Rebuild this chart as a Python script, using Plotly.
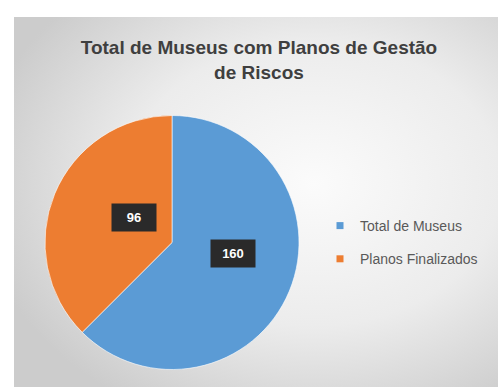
import math
import plotly.graph_objects as go

# Museum counts by planning status
categories = ["Total de Museus", "Planos Finalizados"]
values = [160, 96]
colors = ["#5b9bd5", "#ed7d31"]

title_text = "<b>Total de Museus com Planos de Gestão<br>de Riscos</b>"

W, H = 498, 387

# Pie placement in paper coordinates
dom_x = [45 / W, 299 / W]
dom_y = [1 - 372 / H, 1 - 113 / H]
cx = (dom_x[0] + dom_x[1]) / 2
cy = (dom_y[0] + dom_y[1]) / 2
r_px = (dom_x[1] - dom_x[0]) * W / 2

fig = go.Figure()

fig.add_trace(go.Pie(
    labels=categories,
    values=values,
    sort=False,
    direction="clockwise",
    rotation=0,
    marker=dict(colors=colors, line=dict(color="rgba(255,255,255,0.6)", width=1)),
    textinfo="none",
    hoverinfo="label+value",
    showlegend=False,
    domain=dict(x=dom_x, y=dom_y),
))

# Value callouts placed at the middle angle of each slice
total = sum(values)
acc = 0
for v in values:
    mid = (acc + v / 2) / total * 2 * math.pi
    acc += v
    dx = 0.52 * r_px * math.sin(mid)
    dy = 0.52 * r_px * math.cos(mid)
    fig.add_annotation(
        x=cx + dx / W, y=cy + dy / H, xref="paper", yref="paper",
        text=f"<b>{v}</b>", showarrow=False,
        font=dict(family="Liberation Sans, Arial", size=13, color="white"),
        bgcolor="#2a2a2a", borderpad=6, width=32,
    )

# Legend entries
for name, col in zip(categories, colors):
    fig.add_trace(go.Scatter(
        x=[None], y=[None], mode="markers", name=name,
        marker=dict(symbol="square", size=7, color=col),
        legendgroup=name, showlegend=True,
    ))

# Soft grey panel with a lighter centre
grad_svg = (
    "data:image/svg+xml;utf8,"
    "<svg xmlns='http://www.w3.org/2000/svg' width='484' height='370'>"
    "<defs><radialGradient id='g' cx='62%' cy='45%' r='70%'>"
    "<stop offset='0%' stop-color='%23fbfbfb'/>"
    "<stop offset='55%' stop-color='%23ececec'/>"
    "<stop offset='100%' stop-color='%23cccccc'/>"
    "</radialGradient></defs>"
    "<rect width='484' height='370' fill='url(%23g)'/></svg>"
)
fig.add_layout_image(
    source=grad_svg, xref="paper", yref="paper",
    x=14 / W, y=1 - 17 / H, sizex=1 - 14 / W, sizey=1 - 17 / H,
    xanchor="left", yanchor="top", sizing="stretch", layer="below",
)

fig.update_layout(
    width=W, height=H,
    margin=dict(l=0, r=0, t=0, b=0),
    paper_bgcolor="white",
    plot_bgcolor="rgba(0,0,0,0)",
    title=dict(
        text=title_text, x=0.52, xanchor="center", y=1 - 54 / H, yanchor="top",
        font=dict(family="Liberation Sans, Arial", size=19, color="#3f3f3f"),
    ),
    xaxis=dict(visible=False),
    yaxis=dict(visible=False),
    legend=dict(
        x=320 / W, y=1 - 210 / H, xanchor="left", yanchor="top",
        font=dict(family="Liberation Sans, Arial", size=14, color="#595959"),
        bgcolor="rgba(0,0,0,0)", tracegroupgap=12, itemwidth=30,
    ),
)

fig.write_html("out.html")
